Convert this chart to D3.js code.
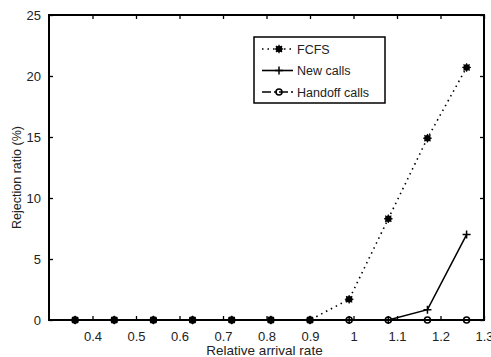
<!DOCTYPE html>
<html>
<head>
<meta charset="utf-8">
<script src="https://cdn.jsdelivr.net/npm/d3@7"></script>
<style>
  body { margin: 0; background: #fff; }
  text { font-family: "Liberation Sans", Arial, sans-serif; fill: #222; }
</style>
</head>
<body>
<div id="canvas"></div>
<script>
const rates = [0.36, 0.45, 0.54, 0.63, 0.72, 0.81, 0.9, 0.99, 1.08, 1.17, 1.26];
const fcfs = [0, 0, 0, 0, 0, 0, 0, 1.7, 8.3, 14.9, 20.7];
const newCalls = [0, 0, 0, 0, 0, 0, 0, 0, 0, 0.85, 7.0];
const handoffCalls = [0, 0, 0, 0, 0, 0, 0, 0, 0, 0, 0];
const xTicks = [0.4, 0.5, 0.6, 0.7, 0.8, 0.9, 1, 1.1, 1.2, 1.3];
const yTicks = [0, 5, 10, 15, 20, 25];
const seriesNames = ['FCFS', 'New calls', 'Handoff calls'];

const W = 491, H = 357;
const MARGIN = { LEFT: 49, RIGHT: 7, TOP: 15, BOTTOM: 37 };
const WIDTH = W - MARGIN.LEFT - MARGIN.RIGHT;
const HEIGHT = H - MARGIN.TOP - MARGIN.BOTTOM;

const svg = d3.select('#canvas').append('svg')
  .attr('width', W)
  .attr('height', H);

const g = svg.append('g')
  .attr('transform', `translate(${MARGIN.LEFT}, ${MARGIN.TOP})`);

const x = d3.scaleLinear().domain([0.3, 1.3]).range([0, WIDTH]);
const y = d3.scaleLinear().domain([0, 25]).range([HEIGHT, 0]);

// ticks on all four sides, pointing inward
const tickLen = 4;
function styleAxis(sel) {
  sel.select('.domain').remove();
  sel.selectAll('line').attr('stroke', '#000').attr('stroke-width', 1.3);
  sel.selectAll('text').style('font-size', '13px');
}
g.append('g')
  .attr('transform', `translate(0, ${HEIGHT})`)
  .call(d3.axisBottom(x).tickValues(xTicks).tickSizeInner(-tickLen).tickSizeOuter(0).tickPadding(12).tickFormat(d3.format('')))
  .call(styleAxis);
g.append('g')
  .call(d3.axisTop(x).tickValues(xTicks).tickSizeInner(-tickLen).tickSizeOuter(0).tickFormat(''))
  .call(styleAxis);
g.append('g')
  .call(d3.axisLeft(y).tickValues(yTicks).tickSizeInner(-tickLen).tickSizeOuter(0).tickPadding(8))
  .call(styleAxis);
g.append('g')
  .attr('transform', `translate(${WIDTH}, 0)`)
  .call(d3.axisRight(y).tickValues(yTicks).tickSizeInner(-tickLen).tickSizeOuter(0).tickFormat(''))
  .call(styleAxis);

g.append('rect')
  .attr('width', WIDTH).attr('height', HEIGHT)
  .attr('fill', 'none').attr('stroke', '#000').attr('stroke-width', 2);

const line = d3.line().x(d => x(d[0])).y(d => y(d[1]));

function starMarker(sel, cx, cy) {
  sel.append('circle').attr('cx', cx).attr('cy', cy).attr('r', 3.3).attr('fill', '#000');
  const r = 4.3;
  [0, 45, 90, 135].forEach(a => {
    const dx = r * Math.cos(a * Math.PI / 180), dy = r * Math.sin(a * Math.PI / 180);
    sel.append('line')
      .attr('x1', cx - dx).attr('y1', cy - dy).attr('x2', cx + dx).attr('y2', cy + dy)
      .attr('stroke', '#000').attr('stroke-width', 1.2);
  });
}
function plusMarker(sel, cx, cy) {
  sel.append('path').attr('d', `M${cx - 4},${cy}H${cx + 4}M${cx},${cy - 4}V${cy + 4}`)
    .attr('stroke', '#000').attr('stroke-width', 1.5);
}
function circleMarker(sel, cx, cy) {
  sel.append('circle').attr('cx', cx).attr('cy', cy).attr('r', 3)
    .attr('fill', 'none').attr('stroke', '#000').attr('stroke-width', 1.6);
}

const series = [
  { name: seriesNames[0], values: fcfs, dash: '1.5,4', marker: starMarker },
  { name: seriesNames[1], values: newCalls, dash: null, marker: plusMarker },
  { name: seriesNames[2], values: handoffCalls, dash: '9,3,2,3', marker: circleMarker }
];

series.forEach(s => {
  const pts = rates.map((r, i) => [r, s.values[i]]);
  g.append('path')
    .attr('d', line(pts))
    .attr('fill', 'none')
    .attr('stroke', '#000')
    .attr('stroke-width', s.dash ? 1.6 : 1.5)
    .attr('stroke-dasharray', s.dash);
  const mg = g.append('g');
  pts.forEach(p => s.marker(mg, x(p[0]), y(p[1])));
});

// legend
const lg = svg.append('g').attr('transform', 'translate(254, 37)');
lg.append('rect').attr('width', 131).attr('height', 66)
  .attr('fill', '#fff').attr('stroke', '#000').attr('stroke-width', 1.5);
series.forEach((s, i) => {
  const ly = 12 + i * 21.5;
  lg.append('line')
    .attr('x1', 8).attr('x2', 39).attr('y1', ly).attr('y2', ly)
    .attr('stroke', '#000').attr('stroke-width', 1.6)
    .attr('stroke-dasharray', s.dash);
  s.marker(lg, 25, ly);
  lg.append('text').attr('x', 43).attr('y', ly + 4.5)
    .style('font-size', '12.5px').text(s.name);
});

// axis titles
svg.append('text')
  .attr('x', MARGIN.LEFT + WIDTH / 2 - 2).attr('y', 355)
  .attr('text-anchor', 'middle').style('font-size', '13.5px')
  .text('Relative arrival rate');
svg.append('text')
  .attr('transform', `translate(21, ${MARGIN.TOP + HEIGHT / 2 + 10}) rotate(-90)`)
  .attr('text-anchor', 'middle').style('font-size', '12.5px')
  .text('Rejection ratio (%)');
</script>
</body>
</html>
